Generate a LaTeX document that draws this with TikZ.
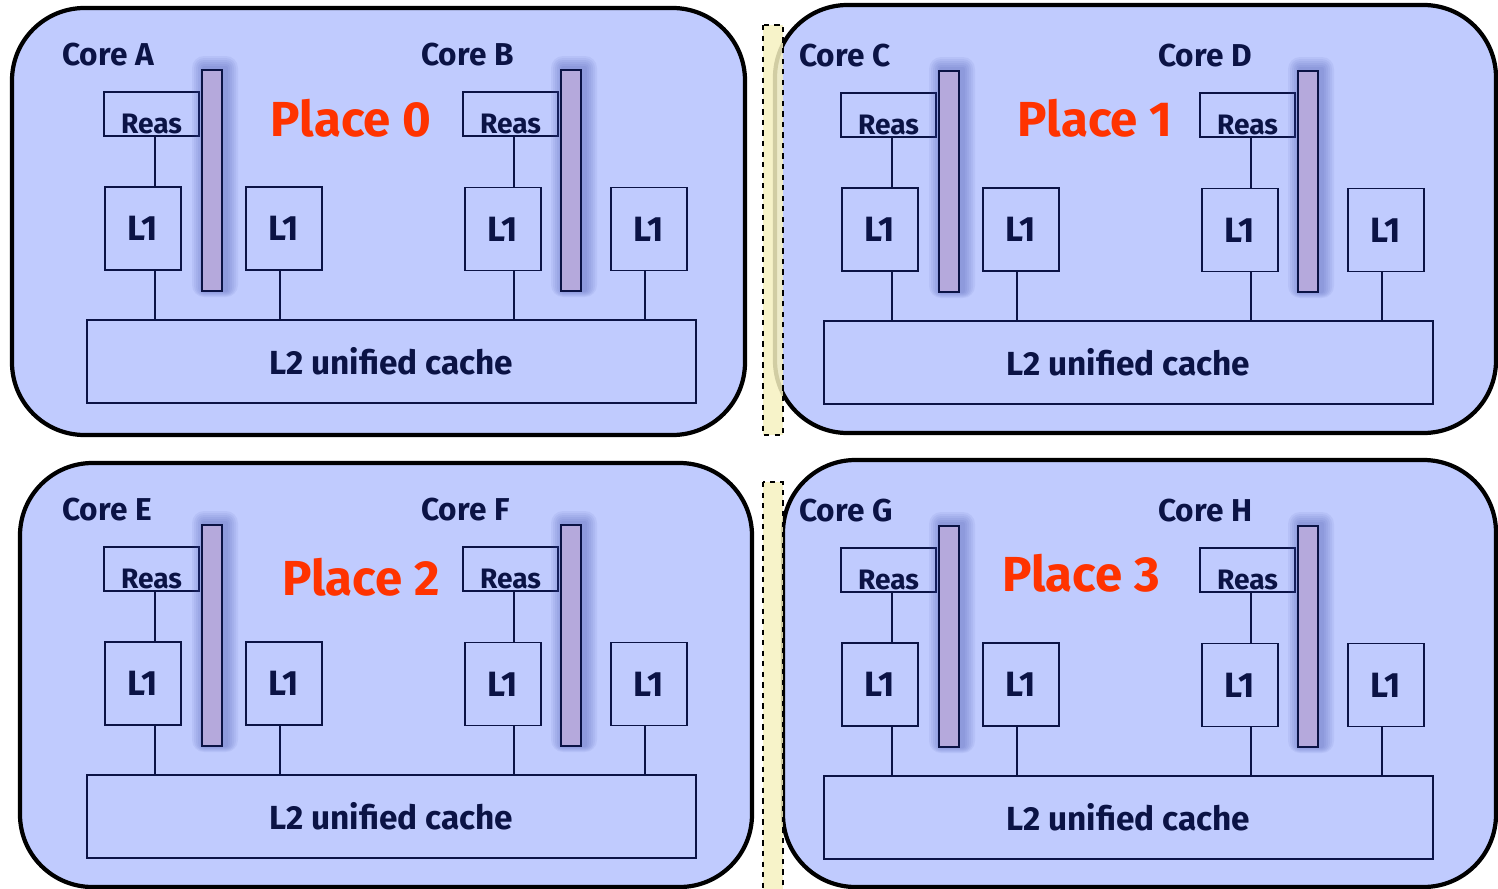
\documentclass[tikz,border=0pt]{standalone}
\usepackage{fontspec}
\setmainfont{Fira Sans}
\definecolor{boxfill}{HTML}{C0CBFE}
\definecolor{navy}{HTML}{0B1345}
\definecolor{barfill}{HTML}{B5A9DC}
\definecolor{placered}{HTML}{FF3300}
\definecolor{stripfill}{HTML}{F6F1C0}
\definecolor{shadowblue}{HTML}{3A4AA8}
\tikzset{
  placebox/.style={draw=black, line width=2.4pt, fill=boxfill, rounded corners=1.45cm},
  unitbox/.style={draw=navy, line width=1.1pt, fill=boxfill, inner sep=0pt},
  reasbox/.style={unitbox, minimum width=1.9cm, minimum height=0.88cm,
     label={[text=navy, font=\fontsize{16}{16}\selectfont\bfseries, yshift=-0.2cm]center:Reas}},
  lonebox/.style={unitbox, minimum width=1.52cm, minimum height=1.66cm,
     text=navy, font=\fontsize{20}{20}\selectfont\bfseries},
  ltwobox/.style={unitbox, minimum width=12.18cm, minimum height=1.66cm,
     text=navy, font=\fontsize{19}{19}\selectfont\bfseries},
  barbox/.style={draw=navy, line width=1.1pt, fill=barfill},
  glow/.style={fill=shadowblue, opacity=0.07},
  corelabel/.style={anchor=west, text=navy, inner sep=0pt, font=\fontsize{18}{18}\selectfont\bfseries},
  placelabel/.style={text=placered, inner sep=0pt, font=\fontsize{28}{28}\selectfont\bfseries},
  wire/.style={draw=navy, line width=1.1pt},
  strip/.style={draw=black, dashed, line width=1pt, fill=stripfill, fill opacity=0.85}
}
\begin{document}
\begin{tikzpicture}[x=0.02cm, y=-0.02cm]
\useasboundingbox (0,0) rectangle (1498,889);
% outer place boxes
\draw[placebox] (12,8) rectangle (745,435);
\draw[placebox] (20,463) rectangle (752,887);
\draw[placebox] (775,5) rectangle (1496,433);
\draw[placebox] (783,460) rectangle (1496,887);
% separator strips
\draw[strip] (763,25) rectangle (783,435);
\draw[strip] (763,482) rectangle (783,895);
\foreach \ox/\oy/\ca/\cb/\pn/\px/\py/\id in
  {0/0/A/B/0/351/118/p0, 737/1/C/D/1/358/117/p1, 0/455/E/F/2/361/122/p2, 737/456/G/H/3/344/117/p3}
{
 \begin{scope}[shift={(\ox,\oy)}]
  \node[corelabel] (\id-corea) at (62,55) {Core \ca};
  \node[corelabel] (\id-coreb) at (421,55) {Core \cb};
  \node[placelabel] (\id-place) at (\px,\py) {Place \pn};
  \node[reasbox] (\id-reasa) at (151.5,114) {};
  \node[reasbox] (\id-reasb) at (510.5,114) {};
  \foreach \s in {2,4,...,12} {
    \fill[glow, rounded corners=\s*0.02cm] (204-\s,68-\s) rectangle (226+\s,291+\s*0.5);
    \fill[glow, rounded corners=\s*0.02cm] (563-\s,68-\s) rectangle (585+\s,291+\s*0.5);
  }
  \draw[barbox] (202,70) rectangle (222,291);
  \draw[barbox] (561,70) rectangle (581,291);
  \node[lonebox] (\id-la1) at (143,228.5) {L1};
  \node[lonebox] (\id-la2) at (284,228.5) {L1};
  \node[lonebox] (\id-lb1) at (503,229) {L1};
  \node[lonebox] (\id-lb2) at (649,229) {L1};
  \node[ltwobox] (\id-ltwo) at (391.5,361.5) {L2 unified cache};
  \coordinate (\id-xa) at (155,0);
  \coordinate (\id-xb) at (280,0);
  \coordinate (\id-xc) at (514,0);
  \coordinate (\id-xd) at (645,0);
  \draw[wire] (\id-reasa.south -| \id-xa) -- (\id-la1.north -| \id-xa);
  \draw[wire] (\id-la1.south -| \id-xa) -- (\id-ltwo.north -| \id-xa);
  \draw[wire] (\id-la2.south -| \id-xb) -- (\id-ltwo.north -| \id-xb);
  \draw[wire] (\id-reasb.south -| \id-xc) -- (\id-lb1.north -| \id-xc);
  \draw[wire] (\id-lb1.south -| \id-xc) -- (\id-ltwo.north -| \id-xc);
  \draw[wire] (\id-lb2.south -| \id-xd) -- (\id-ltwo.north -| \id-xd);
 \end{scope}
}
\end{tikzpicture}
\end{document}
